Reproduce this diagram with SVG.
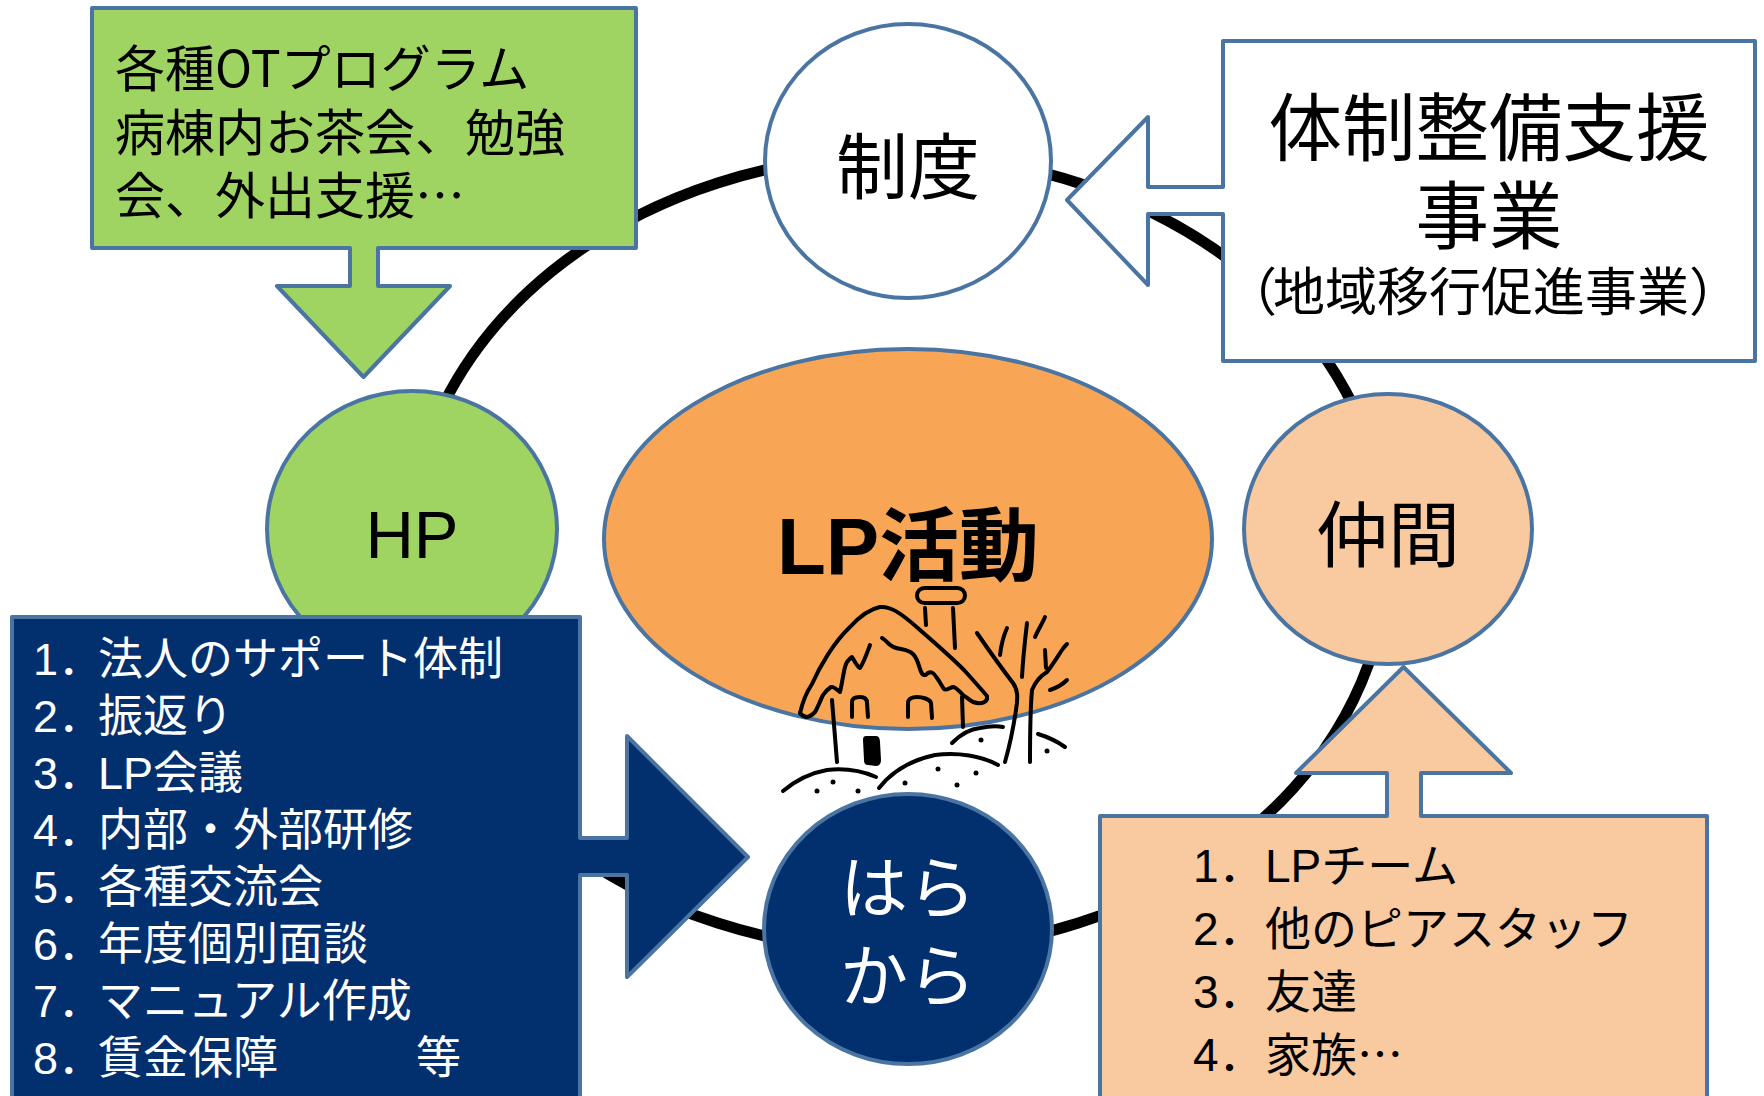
<svg xmlns="http://www.w3.org/2000/svg" width="1764" height="1096" viewBox="0 0 1764 1096">
  <style>
    .shape { stroke: #4A74A1; stroke-width: 4; stroke-linejoin: round; }
    .green { fill: #A0D462; }
    .navy { fill: #022F6E; }
    .peach { fill: #F9C99F; }
    .orange { fill: #F8A656; }
    .white { fill: #FFFFFF; }
    .jp { font-family: "Noto Sans CJK JP", "Noto Sans", sans-serif; }
    .mix { font-family: "Liberation Sans", "Noto Sans CJK JP", sans-serif; }
    .dark { fill: #000000; }
    .light { fill: #FFFFFF; }
    .ink { fill: none; stroke: #000000; stroke-width: 4; stroke-linecap: round; stroke-linejoin: round; }
    .dot { fill: #000000; }
  </style>

  <!-- cycle ring linking the four circles -->
  <g id="connectors">
    <ellipse cx="898" cy="553" rx="490" ry="398" fill="none" stroke="#000000" stroke-width="11"/>
  </g>

  <g id="node-hp">
    <ellipse class="shape green" cx="412" cy="529" rx="145" ry="138"/>
    <text class="mix dark" x="412" y="558" font-size="67" text-anchor="middle">HP</text>
  </g>

  <g id="node-seido">
    <ellipse class="shape white" cx="908" cy="161" rx="143" ry="137"/>
    <text class="jp dark" x="908" y="193" font-size="72" text-anchor="middle">制度</text>
  </g>

  <g id="node-nakama">
    <ellipse class="shape peach" cx="1388" cy="529" rx="144" ry="135"/>
    <text class="jp dark" x="1388" y="561" font-size="72" text-anchor="middle">仲間</text>
  </g>

  <g id="node-lp">
    <ellipse class="shape orange" cx="908" cy="539" rx="304" ry="190"/>
    <text class="mix dark" x="908" y="574" font-size="80" font-weight="bold" text-anchor="middle">LP活動</text>
  </g>

  <g id="node-harakara">
    <ellipse class="shape navy" cx="908" cy="929" rx="144" ry="135"/>
    <text class="jp light" x="908" y="913" font-size="68" text-anchor="middle">はら</text>
    <text class="jp light" x="908" y="1001" font-size="68" text-anchor="middle">から</text>
  </g>

  <!-- snowy cottage and bare tree -->
  <g id="house">
    <path class="ink" d="M800,713 C803,700 808,690 812,684 C820,666 834,642 850,627 C860,616 870,609 880,607 C890,606 900,612 920,630 C935,643 950,656 964,670 C973,680 982,690 987,696 C988,702 982,705 973,702 C968,699 965,696 963,695 C958,690 956,687 953,687 C949,688 946,691 944,689 C941,685 940,682 937,678 C934,673 931,671 928,673 C924,677 922,675 920,669 C918,662 916,657 913,654 C910,651 907,650 901,649 C895,648 892,647 889,644 C886,641 884,639 882,638"/>
    <path class="ink" d="M870,645 C867,653 864,662 860,668 C857,667 854,660 852,657 C849,659 846,663 845,667 C843,675 842,684 840,692 C837,690 834,686 831,687 C828,689 825,692 823,695 C820,701 818,707 815,712 C812,715 810,717 806,717 C803,716 801,715 800,713"/>
    <rect x="917" y="588" width="48" height="15" rx="7.5" class="ink"/>
    <path class="ink" d="M925,608 L926,625"/>
    <path class="ink" d="M953,608 L955,648"/>
    <path class="ink" d="M852,717 L852,702 C852,698 856,697 860,697 C865,697 867,699 867,703 L868,717"/>
    <path class="ink" d="M908,717 L908,703 C908,699 912,697 917,697 C922,697 930,699 931,703 L932,718"/>
    <path class="ink" d="M832,700 L837,762"/>
    <path class="ink" d="M962,697 L963,727"/>
    <path class="dot" d="M866,736 L876,736 C879,736 880,739 880,742 L881,760 C881,764 879,766 876,766 L868,765 C865,765 864,763 864,760 L863,740 C863,737 864,736 866,736 Z"/>
    <path class="ink" d="M783,791 C795,781 810,773 827,770 C845,768 862,771 876,777" stroke-width="5"/>
    <path class="ink" d="M879,788 C893,770 912,760 935,755 C958,752 982,756 998,765" stroke-width="5"/>
    <path class="ink" d="M952,743 C960,735 970,729 980,728 C990,726 997,726 1003,727"/>
    <path class="ink" d="M1038,734 C1048,737 1058,742 1065,747"/>
    <circle class="dot" cx="833" cy="782" r="2.5"/>
    <circle class="dot" cx="817" cy="791" r="2.5"/>
    <circle class="dot" cx="858" cy="791" r="2.5"/>
    <circle class="dot" cx="905" cy="783" r="2.5"/>
    <circle class="dot" cx="938" cy="769" r="2.5"/>
    <circle class="dot" cx="957" cy="785" r="2.5"/>
    <circle class="dot" cx="976" cy="773" r="2.5"/>
    <circle class="dot" cx="981" cy="740" r="2.5"/>
    <circle class="dot" cx="1047" cy="751" r="2.5"/>
    <path class="ink" d="M977,633 C990,652 1003,670 1013,683 C1018,690 1018,697 1016,710 C1013,730 1009,748 1005,762"/>
    <path class="ink" d="M1030,762 C1030,740 1030,712 1032,690 C1036,680 1042,675 1047,672 C1053,664 1058,656 1062,650 C1064,647 1066,645 1067,644"/>
    <path class="ink" d="M1027,623 C1025,640 1023,658 1022,677"/>
    <path class="ink" d="M1007,628 C1003,637 1001,646 1000,655"/>
    <path class="ink" d="M1045,617 C1042,624 1038,630 1035,637"/>
    <path class="ink" d="M1045,650 L1046,668"/>
    <path class="ink" d="M1050,690 C1056,688 1062,685 1067,680"/>
  </g>

  <g id="box-hospital">
    <path class="shape green" d="M92,8 H636 V248 H378 V286 H450 L363.5,377 L277,286 H350 V248 H92 Z"/>
    <text class="jp dark" font-size="50">
      <tspan x="115" y="87">各種OTプログラム</tspan>
      <tspan x="115" y="151">病棟内お茶会、勉強</tspan>
      <tspan x="115" y="214">会、外出支援…</tspan>
    </text>
  </g>

  <g id="box-system">
    <path class="shape white" d="M1223,41 H1755 V361 H1223 V214 H1148 V285 L1067,200 L1148,117 V187 H1223 Z"/>
    <text class="jp dark" x="1489" y="155" font-size="73.5" text-anchor="middle">体制整備支援</text>
    <text class="jp dark" x="1489" y="243" font-size="73.5" text-anchor="middle">事業</text>
    <text class="jp dark" y="311" font-size="52"><tspan x="1225">（</tspan><tspan x="1273">地域移行促進事業</tspan><tspan x="1689">）</tspan></text>
  </g>

  <g id="box-support">
    <path class="shape navy" d="M12,617 H580 V838 H627 V736 L748,857 L627,977 V875 H580 V1110 H12 Z"/>
    <g class="mix light" font-size="45">
      <text x="33" y="675">1．<tspan x="98">法人のサポート体制</tspan></text>
      <text x="33" y="732">2．<tspan x="98">振返り</tspan></text>
      <text x="33" y="789">3．<tspan x="98">LP会議</tspan></text>
      <text x="33" y="846">4．<tspan x="98">内部・外部研修</tspan></text>
      <text x="33" y="903">5．<tspan x="98">各種交流会</tspan></text>
      <text x="33" y="960">6．<tspan x="98">年度個別面談</tspan></text>
      <text x="33" y="1017">7．<tspan x="98">マニュアル作成</tspan></text>
      <text x="33" y="1074">8．<tspan x="98">賃金保障</tspan><tspan x="416">等</tspan></text>
    </g>
  </g>

  <g id="box-peers">
    <path class="shape peach" d="M1100,816 H1387 V773 H1296 L1403.5,667 L1511,773 H1421 V816 H1707 V1110 H1100 Z"/>
    <g class="mix dark" font-size="46">
      <text x="1193" y="882">1．<tspan x="1265">LPチーム</tspan></text>
      <text x="1193" y="945">2．<tspan x="1265">他のピアスタッフ</tspan></text>
      <text x="1193" y="1008">3．<tspan x="1265">友達</tspan></text>
      <text x="1193" y="1071">4．<tspan x="1265">家族</tspan><tspan class="jp">…</tspan></text>
    </g>
  </g>
</svg>
